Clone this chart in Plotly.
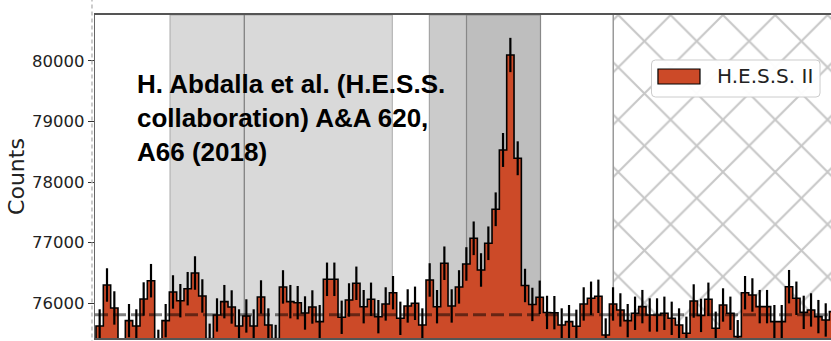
import numpy as np
import plotly.graph_objects as go

# Counts per bin (H.E.S.S. II), bin index along the x axis
counts = [
    75626, 76302, 75923, 75120, 75713, 75626, 76071, 76373, 75290, 75713,
    76187, 76043, 76241, 76500, 76121, 75390, 75807, 76027, 75939, 75626,
    75791, 75626, 76104, 75642, 75370, 76270, 76027, 76010, 75840, 75939,
    75697, 76396, 76396, 75769, 76055, 76330, 75944, 76066, 75779, 75989,
    76175, 75752, 75956, 76000, 75642, 76385, 75944, 76661, 75956, 76270,
    76649, 77073, 76550, 76991, 77552, 78531, 80099, 78394, 76294, 75981,
    76099, 75849, 75845, 75642, 75697, 75620, 75989, 76083, 76115, 75477,
    75989, 75890, 75713, 75835, 75945, 75807, 75807, 75835, 75752, 75642,
    75505, 76038, 75800, 76066, 75588, 75972, 75835, 75449, 76175, 76137,
    75945, 75945, 75697, 75697, 76274, 76083, 75850, 75890, 75780, 75725,
    75862,
]
background_level = 75810
series_name = "H.E.S.S. II"
ytick_values = [76000, 77000, 78000, 79000, 80000]
ytick_labels = ["76000", "77000", "78000", "79000", "80000"]

# shaded analysis regions (bin units)
light_region = (10.09, 40.40)
light_region_split = 20.22
dark_region = (45.45, 60.61)
darker_region = (50.52, 60.61)
excluded_start = 70.67

x_range = (-0.136, 100.22)
y_range = (75427, 80759)

counts_arr = np.array(counts, dtype=float)
edges = np.arange(len(counts) + 1, dtype=float)
centers = edges[:-1] + 0.5
errors = np.sqrt(counts_arr)

BAR = "#cc4a28"

fig = go.Figure()

# cross-hatched excluded region
fig.add_trace(go.Bar(
    x=[(excluded_start + x_range[1] + 2) / 2],
    y=[y_range[1] - y_range[0] + 50],
    base=[y_range[0] - 20],
    width=[x_range[1] + 2 - excluded_start],
    marker=dict(
        color="white",
        pattern=dict(shape="x", size=37, solidity=0.11, fgcolor="#8f8f8f", bgcolor="white"),
        line=dict(color="#9a9a9a", width=1.5),
    ),
    hoverinfo="skip", showlegend=False,
))

# filled histogram
fig.add_trace(go.Bar(
    x=centers, y=counts_arr, width=1.0,
    marker=dict(color=BAR, line=dict(width=0)),
    name=series_name, showlegend=False,
))

# step outline
step_x = np.concatenate([[edges[0]], edges])
step_y = np.concatenate([[y_range[0] - 500], counts_arr, [counts_arr[-1]]])
fig.add_trace(go.Scatter(
    x=step_x, y=step_y, mode="lines", line_shape="hv",
    line=dict(color="black", width=1.6), hoverinfo="skip", showlegend=False,
))

# Poisson error bars
fig.add_trace(go.Scatter(
    x=centers, y=counts_arr, mode="markers",
    marker=dict(size=1, color="rgba(0,0,0,0)"),
    error_y=dict(type="data", array=errors, color="black", thickness=2.2, width=0),
    showlegend=False,
))

shapes = [
    dict(type="rect", xref="x", yref="paper", x0=light_region[0], x1=light_region[1], y0=0, y1=1,
         fillcolor="#d9d9d9", line=dict(color="#aaaaaa", width=1), layer="below"),
    dict(type="line", xref="x", yref="paper", x0=light_region_split, x1=light_region_split, y0=0, y1=1,
         line=dict(color="#808080", width=1.3), layer="below"),
    dict(type="rect", xref="x", yref="paper", x0=dark_region[0], x1=dark_region[1], y0=0, y1=1,
         fillcolor="#cbcbcb", line=dict(color="#999999", width=1), layer="below"),
    dict(type="rect", xref="x", yref="paper", x0=darker_region[0], x1=darker_region[1], y0=0, y1=1,
         fillcolor="#bebebe", line=dict(color="#888888", width=1.2), layer="below"),
    # background level
    dict(type="line", xref="paper", yref="y", x0=0, x1=1, y0=background_level, y1=background_level,
         line=dict(color="rgba(0,0,0,0.5)", width=3, dash="13px,5px"), layer="above"),
    # dashed guide left of the frame
    dict(type="line", xref="paper", yref="paper", x0=-0.0041, x1=-0.0041, y0=-0.02, y1=1.06,
         line=dict(color="#bbbbbb", width=1.5, dash="4px,3px"), layer="above"),
]

# legend frame and swatch
lx0, lx1, ly0, ly1 = 0.7561, 0.9851, 0.7461, 0.8607
rx, ry = 4 / 736, 4 / 323
legend_path = (
    f"M{lx0+rx},{ly0} L{lx1-rx},{ly0} Q{lx1},{ly0} {lx1},{ly0+ry} "
    f"L{lx1},{ly1-ry} Q{lx1},{ly1} {lx1-rx},{ly1} L{lx0+rx},{ly1} "
    f"Q{lx0},{ly1} {lx0},{ly1-ry} L{lx0},{ly0+ry} Q{lx0},{ly0} {lx0+rx},{ly0} Z"
)
shapes.append(dict(type="path", xref="paper", yref="paper", path=legend_path,
                   fillcolor="rgba(255,255,255,0.95)", line=dict(color="#cccccc", width=1), layer="above"))
shapes.append(dict(type="rect", xref="paper", yref="paper", x0=0.7649, x1=0.8220, y0=0.7864, y1=0.8328,
                   fillcolor=BAR, line=dict(color="black", width=1.2), layer="above"))

annotations = [
    dict(xref="paper", yref="paper", x=0.8424, y=0.8096, xanchor="left", yanchor="middle",
         text=series_name, showarrow=False,
         font=dict(family="DejaVu Sans", size=20, color="#222222")),
    dict(xref="paper", yref="paper", x=0.0545, y=0.68, xanchor="left", yanchor="middle", align="left",
         text="H. Abdalla et al. (H.E.S.S.<br>collaboration) A&A 620,<br>A66 (2018)", showarrow=False,
         font=dict(family="Liberation Sans, Arial", size=26, color="black", weight="bold")),
]

fig.update_layout(
    width=831, height=341,
    margin=dict(l=95, r=0, t=15, b=3, pad=0),
    paper_bgcolor="white", plot_bgcolor="white",
    barmode="overlay", bargap=0,
    shapes=shapes, annotations=annotations,
    showlegend=False,
    xaxis=dict(range=list(x_range), showticklabels=False, ticks="", showgrid=False, zeroline=False,
               showline=True, mirror=True, linecolor="#555555", linewidth=1.5),
    yaxis=dict(range=list(y_range), tickvals=ytick_values, ticktext=ytick_labels,
               ticks="outside", ticklen=6,
               tickwidth=1.2, tickcolor="#333333", showgrid=False, zeroline=False,
               showline=True, linecolor="#666666", linewidth=1.3,
               tickfont=dict(family="DejaVu Sans", size=16.5, color="#222222"),
               title=dict(text="Counts", font=dict(family="DejaVu Sans", size=22, color="#222222"),
                          standoff=1)),
)

fig.write_html("out.html")
